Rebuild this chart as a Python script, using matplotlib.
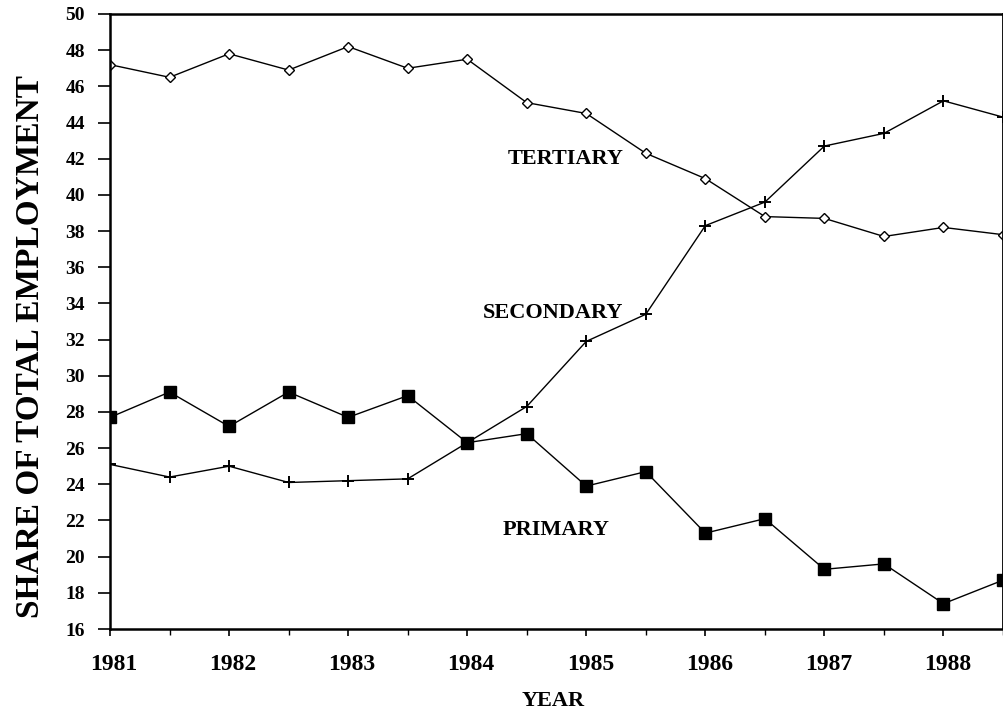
import matplotlib
matplotlib.use("Agg")
import matplotlib.pyplot as plt
import matplotlib.transforms as mtransforms
from matplotlib.ticker import MultipleLocator

years = [1981, 1981.5, 1982, 1982.5, 1983, 1983.5, 1984, 1984.5,
         1985, 1985.5, 1986, 1986.5, 1987, 1987.5, 1988, 1988.5]
tertiary = [47.2, 46.5, 47.8, 46.9, 48.2, 47.0, 47.5, 45.1,
            44.5, 42.3, 40.9, 38.8, 38.7, 37.7, 38.2, 37.8]
secondary = [25.1, 24.4, 25.0, 24.1, 24.2, 24.3, 26.3, 28.3,
             31.9, 33.4, 38.3, 39.6, 42.7, 43.4, 45.2, 44.3]
primary = [27.7, 29.1, 27.2, 29.1, 27.7, 28.9, 26.3, 26.8,
           23.9, 24.7, 21.3, 22.1, 19.3, 19.6, 17.4, 18.7]
year_ticks = [1981, 1982, 1983, 1984, 1985, 1986, 1987, 1988]
y_ticks = list(range(16, 51, 2))

serif = ["Liberation Serif", "DejaVu Serif"]
plt.rcParams["font.family"] = serif
plt.rcParams["font.weight"] = "bold"

W, H = 1004, 714
fig = plt.figure(figsize=(W / 100, H / 100), dpi=100)
left, right, top, bottom = 110, 1003, 14, 629
ax = fig.add_axes([left / W, 1 - bottom / H, (right - left) / W, (bottom - top) / H])

ax.plot(years, tertiary, color="black", lw=1.0, marker="D", ms=5.5,
        mfc="white", mec="black", mew=1.0)
ax.plot(years, secondary, color="black", lw=1.0, marker="+", ms=8, mew=1.4)
ax.plot(years, primary, color="black", lw=1.0, marker="s", ms=8,
        mfc="black", mec="black")

ax.set_xlim(1981, 1988.5)
ax.set_ylim(16, 50)
ax.set_xticks(year_ticks)
ax.xaxis.set_minor_locator(MultipleLocator(0.5))
ax.set_yticks(y_ticks)
ax.tick_params(axis="y", direction="out", length=9, width=1.2, pad=9,
               labelsize=14)
ax.tick_params(axis="x", which="major", direction="out", length=5, width=1.2,
               pad=13, labelsize=17)
ax.tick_params(axis="x", which="minor", direction="out", length=4, width=1.0)

shift = mtransforms.ScaledTranslation(4 / 100, 0, fig.dpi_scale_trans)
for lab in ax.get_xticklabels():
    lab.set_transform(lab.get_transform() + shift)

for s in ax.spines.values():
    s.set_linewidth(1.8)
ax.spines["right"].set_linewidth(1.3)

fs = 16
ax.text(1984.83, 42.0, "TERTIARY", fontsize=fs, fontweight="bold",
        ha="center", va="center")
ax.text(1984.72, 33.45, "SECONDARY", fontsize=fs, fontweight="bold",
        ha="center", va="center")
ax.text(1984.75, 21.5, "PRIMARY", fontsize=fs, fontweight="bold",
        ha="center", va="center")

fig.text(553 / W, 1 - 701 / H, "YEAR", fontsize=fs, fontweight="bold",
         ha="center", va="center")
fig.text(31 / W, 1 - 347 / H, "SHARE OF TOTAL EMPLOYMENT", fontsize=24,
         fontweight="bold", ha="center", va="center", rotation=90)

fig.savefig("out.png", dpi=100)
